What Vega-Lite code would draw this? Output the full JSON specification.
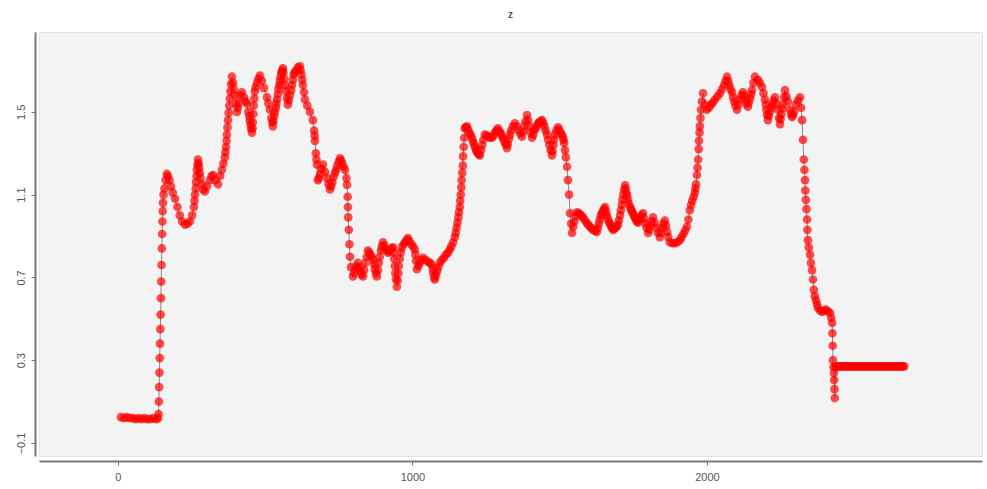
{
  "$schema": "https://vega.github.io/schema/vega-lite/v6.json",
  "width": 943,
  "height": 424,
  "autosize": {"type": "none"},
  "padding": {"left": 39, "top": 32, "right": 5, "bottom": 33},
  "background": "#ffffff",
  "title": {"text": "z", "fontSize": 10, "font": "Liberation Sans", "color": "#555555", "fontWeight": "bold", "offset": 12},
  "config": {
    "view": {"fill": "#f3f3f3", "stroke": "#e2e2e2", "strokeWidth": 1},
    "axis": {"labelFont": "Liberation Sans", "labelFontSize": 11, "labelColor": "#555555", "domainColor": "#777777", "domainWidth": 2, "tickColor": "#777777", "tickSize": 4, "grid": false, "title": null}
  },
  "data": {"values": [
    {"x":10,"z":0.025},{"x":20,"z":0.02},{"x":30,"z":0.025},{"x":40,"z":0.02},{"x":50,"z":0.02},{"x":60,"z":0.015},{"x":70,"z":0.02},{"x":80,"z":0.015},{"x":90,"z":0.02},{"x":100,"z":0.015},{"x":110,"z":0.015},{"x":120,"z":0.02},{"x":130,"z":0.015},{"x":136,"z":0.02},
    {"x":138,"z":0.04},{"x":139,"z":0.1},{"x":140,"z":0.17},{"x":141,"z":0.24},{"x":142,"z":0.31},{"x":143,"z":0.38},{"x":144,"z":0.45},{"x":145,"z":0.52},{"x":146,"z":0.6},{"x":147,"z":0.68},{"x":148,"z":0.76},{"x":149,"z":0.84},{"x":150,"z":0.91},{"x":151,"z":0.97},{"x":152,"z":1.02},{"x":153,"z":1.06},{"x":155,"z":1.1},{"x":158,"z":1.13},{"x":162,"z":1.17},{"x":166,"z":1.2},{"x":170,"z":1.19},{"x":175,"z":1.17},{"x":180,"z":1.14},{"x":186,"z":1.11},{"x":194,"z":1.08},{"x":202,"z":1.04},{"x":210,"z":1.0},{"x":218,"z":0.97},{"x":228,"z":0.955},{"x":236,"z":0.96},{"x":244,"z":0.97},{"x":252,"z":1.0},{"x":258,"z":1.04},{"x":262,"z":1.1},{"x":265,"z":1.16},{"x":268,"z":1.22},{"x":272,"z":1.27},{"x":276,"z":1.23},{"x":280,"z":1.18},{"x":285,"z":1.15},{"x":290,"z":1.125},{"x":295,"z":1.115},{"x":302,"z":1.14},{"x":312,"z":1.17},{"x":318,"z":1.19},{"x":323,"z":1.195},{"x":330,"z":1.17},{"x":340,"z":1.15},{"x":347,"z":1.19},{"x":353,"z":1.22},{"x":358,"z":1.25},{"x":363,"z":1.28},{"x":367,"z":1.33},{"x":370,"z":1.39},{"x":374,"z":1.46},{"x":378,"z":1.53},{"x":382,"z":1.6},{"x":387,"z":1.67},{"x":391,"z":1.64},{"x":397,"z":1.58},{"x":404,"z":1.5},{"x":410,"z":1.54},{"x":415,"z":1.58},{"x":421,"z":1.595},{"x":428,"z":1.57},{"x":434,"z":1.55},{"x":438,"z":1.54},{"x":443,"z":1.5},{"x":448,"z":1.46},{"x":452,"z":1.42},{"x":455,"z":1.4},{"x":458,"z":1.45},{"x":461,"z":1.53},{"x":465,"z":1.6},{"x":472,"z":1.64},{"x":482,"z":1.675},{"x":489,"z":1.65},{"x":496,"z":1.615},{"x":506,"z":1.57},{"x":511,"z":1.54},{"x":516,"z":1.51},{"x":521,"z":1.47},{"x":526,"z":1.43},{"x":531,"z":1.48},{"x":536,"z":1.52},{"x":540,"z":1.56},{"x":545,"z":1.61},{"x":550,"z":1.65},{"x":555,"z":1.69},{"x":560,"z":1.71},{"x":565,"z":1.66},{"x":570,"z":1.6},{"x":577,"z":1.535},{"x":584,"z":1.58},{"x":591,"z":1.63},{"x":597,"z":1.68},{"x":604,"z":1.7},{"x":611,"z":1.715},{"x":618,"z":1.72},{"x":623,"z":1.68},{"x":628,"z":1.63},{"x":635,"z":1.56},{"x":643,"z":1.53},{"x":652,"z":1.5},{"x":662,"z":1.46},{"x":666,"z":1.41},{"x":669,"z":1.36},{"x":672,"z":1.3},{"x":676,"z":1.245},{"x":679,"z":1.17},{"x":686,"z":1.2},{"x":696,"z":1.245},{"x":703,"z":1.21},{"x":710,"z":1.18},{"x":720,"z":1.125},{"x":728,"z":1.16},{"x":737,"z":1.205},{"x":745,"z":1.24},{"x":754,"z":1.275},{"x":762,"z":1.25},{"x":771,"z":1.22},{"x":776,"z":1.18},{"x":778,"z":1.147},{"x":780,"z":1.09},{"x":781,"z":1.04},{"x":782,"z":0.99},{"x":784,"z":0.93},{"x":786,"z":0.86},{"x":788,"z":0.8},{"x":791,"z":0.75},{"x":798,"z":0.705},{"x":806,"z":0.74},{"x":815,"z":0.77},{"x":823,"z":0.73},{"x":832,"z":0.705},{"x":840,"z":0.77},{"x":849,"z":0.83},{"x":857,"z":0.81},{"x":866,"z":0.785},{"x":872,"z":0.74},{"x":879,"z":0.705},{"x":886,"z":0.77},{"x":893,"z":0.83},{"x":900,"z":0.87},{"x":908,"z":0.84},{"x":917,"z":0.82},{"x":925,"z":0.835},{"x":934,"z":0.845},{"x":938,"z":0.79},{"x":942,"z":0.72},{"x":947,"z":0.655},{"x":952,"z":0.72},{"x":957,"z":0.79},{"x":964,"z":0.845},{"x":975,"z":0.87},{"x":985,"z":0.89},{"x":996,"z":0.86},{"x":1008,"z":0.835},{"x":1012,"z":0.78},{"x":1015,"z":0.74},{"x":1025,"z":0.77},{"x":1036,"z":0.795},{"x":1045,"z":0.785},{"x":1053,"z":0.775},{"x":1066,"z":0.76},{"x":1071,"z":0.72},{"x":1076,"z":0.69},{"x":1084,"z":0.73},{"x":1093,"z":0.77},{"x":1107,"z":0.795},{"x":1121,"z":0.82},{"x":1132,"z":0.85},{"x":1144,"z":0.895},{"x":1150,"z":0.94},{"x":1156,"z":0.99},{"x":1161,"z":1.04},{"x":1164,"z":1.1},{"x":1167,"z":1.17},{"x":1171,"z":1.24},{"x":1174,"z":1.33},{"x":1178,"z":1.42},{"x":1185,"z":1.43},{"x":1193,"z":1.4},{"x":1202,"z":1.375},{"x":1209,"z":1.345},{"x":1216,"z":1.315},{"x":1222,"z":1.3},{"x":1229,"z":1.29},{"x":1237,"z":1.34},{"x":1246,"z":1.39},{"x":1258,"z":1.38},{"x":1270,"z":1.375},{"x":1280,"z":1.4},{"x":1290,"z":1.42},{"x":1298,"z":1.4},{"x":1307,"z":1.375},{"x":1314,"z":1.35},{"x":1321,"z":1.325},{"x":1328,"z":1.37},{"x":1335,"z":1.41},{"x":1348,"z":1.445},{"x":1360,"z":1.41},{"x":1372,"z":1.38},{"x":1380,"z":1.43},{"x":1389,"z":1.485},{"x":1397,"z":1.43},{"x":1406,"z":1.375},{"x":1414,"z":1.41},{"x":1423,"z":1.435},{"x":1431,"z":1.45},{"x":1440,"z":1.46},{"x":1448,"z":1.43},{"x":1457,"z":1.39},{"x":1465,"z":1.34},{"x":1474,"z":1.29},{"x":1479,"z":1.34},{"x":1484,"z":1.39},{"x":1494,"z":1.425},{"x":1503,"z":1.4},{"x":1511,"z":1.38},{"x":1515,"z":1.35},{"x":1518,"z":1.315},{"x":1521,"z":1.28},{"x":1525,"z":1.235},{"x":1528,"z":1.17},{"x":1532,"z":1.1},{"x":1535,"z":1.01},{"x":1539,"z":0.96},{"x":1542,"z":0.915},{"x":1550,"z":0.97},{"x":1559,"z":1.015},{"x":1569,"z":1.005},{"x":1579,"z":0.99},{"x":1591,"z":0.965},{"x":1603,"z":0.945},{"x":1614,"z":0.93},{"x":1626,"z":0.92},{"x":1633,"z":0.96},{"x":1640,"z":1.0},{"x":1647,"z":1.02},{"x":1654,"z":1.04},{"x":1660,"z":1.0},{"x":1667,"z":0.97},{"x":1674,"z":0.95},{"x":1681,"z":0.93},{"x":1690,"z":0.94},{"x":1698,"z":0.955},{"x":1705,"z":1.0},{"x":1711,"z":1.05},{"x":1716,"z":1.1},{"x":1722,"z":1.145},{"x":1727,"z":1.11},{"x":1732,"z":1.075},{"x":1739,"z":1.04},{"x":1745,"z":1.02},{"x":1752,"z":1.0},{"x":1759,"z":0.98},{"x":1766,"z":0.965},{"x":1774,"z":0.99},{"x":1783,"z":1.01},{"x":1791,"z":0.96},{"x":1800,"z":0.915},{"x":1808,"z":0.95},{"x":1817,"z":0.99},{"x":1828,"z":0.94},{"x":1840,"z":0.895},{"x":1848,"z":0.94},{"x":1857,"z":0.975},{"x":1865,"z":0.92},{"x":1874,"z":0.87},{"x":1883,"z":0.865},{"x":1891,"z":0.866},{"x":1900,"z":0.87},{"x":1908,"z":0.88},{"x":1920,"z":0.91},{"x":1932,"z":0.945},{"x":1937,"z":0.98},{"x":1942,"z":1.025},{"x":1950,"z":1.07},{"x":1959,"z":1.11},{"x":1963,"z":1.15},{"x":1966,"z":1.195},{"x":1968,"z":1.23},{"x":1970,"z":1.27},{"x":1972,"z":1.32},{"x":1973,"z":1.36},{"x":1975,"z":1.4},{"x":1976,"z":1.43},{"x":1978,"z":1.47},{"x":1980,"z":1.51},{"x":1983,"z":1.55},{"x":1987,"z":1.59},{"x":1993,"z":1.535},{"x":2000,"z":1.51},{"x":2007,"z":1.52},{"x":2014,"z":1.535},{"x":2020,"z":1.545},{"x":2027,"z":1.56},{"x":2036,"z":1.575},{"x":2044,"z":1.59},{"x":2051,"z":1.61},{"x":2058,"z":1.63},{"x":2063,"z":1.65},{"x":2068,"z":1.67},{"x":2076,"z":1.63},{"x":2085,"z":1.595},{"x":2093,"z":1.55},{"x":2102,"z":1.51},{"x":2107,"z":1.535},{"x":2112,"z":1.56},{"x":2117,"z":1.58},{"x":2122,"z":1.595},{"x":2130,"z":1.56},{"x":2139,"z":1.525},{"x":2146,"z":1.565},{"x":2153,"z":1.605},{"x":2158,"z":1.64},{"x":2163,"z":1.67},{"x":2173,"z":1.655},{"x":2180,"z":1.64},{"x":2187,"z":1.62},{"x":2192,"z":1.59},{"x":2197,"z":1.56},{"x":2202,"z":1.51},{"x":2207,"z":1.46},{"x":2214,"z":1.5},{"x":2221,"z":1.535},{"x":2231,"z":1.57},{"x":2236,"z":1.54},{"x":2241,"z":1.51},{"x":2245,"z":1.47},{"x":2248,"z":1.44},{"x":2253,"z":1.49},{"x":2258,"z":1.535},{"x":2262,"z":1.57},{"x":2265,"z":1.605},{"x":2270,"z":1.575},{"x":2275,"z":1.55},{"x":2282,"z":1.51},{"x":2289,"z":1.475},{"x":2296,"z":1.5},{"x":2302,"z":1.535},{"x":2309,"z":1.555},{"x":2316,"z":1.57},{"x":2320,"z":1.52},{"x":2323,"z":1.46},{"x":2326,"z":1.365},{"x":2329,"z":1.27},{"x":2331,"z":1.22},{"x":2333,"z":1.17},{"x":2334,"z":1.12},{"x":2336,"z":1.075},{"x":2338,"z":1.03},{"x":2340,"z":0.98},{"x":2341,"z":0.93},{"x":2343,"z":0.88},{"x":2346,"z":0.845},{"x":2350,"z":0.81},{"x":2353,"z":0.77},{"x":2357,"z":0.735},{"x":2360,"z":0.69},{"x":2363,"z":0.64},{"x":2366,"z":0.61},{"x":2370,"z":0.59},{"x":2374,"z":0.57},{"x":2377,"z":0.552},{"x":2384,"z":0.54},{"x":2391,"z":0.533},{"x":2398,"z":0.54},{"x":2404,"z":0.545},{"x":2411,"z":0.535},{"x":2418,"z":0.528},{"x":2422,"z":0.505},{"x":2425,"z":0.48},{"x":2426,"z":0.43},{"x":2427,"z":0.37},{"x":2428,"z":0.3},{"x":2430,"z":0.267},{"x":2431,"z":0.238},{"x":2432,"z":0.204},{"x":2433,"z":0.16},{"x":2434,"z":0.117},{"x":2437,"z":0.265},
    {"x":2440,"z":0.27},{"x":2445,"z":0.27},{"x":2450,"z":0.27},{"x":2455,"z":0.27},{"x":2460,"z":0.27},{"x":2465,"z":0.27},{"x":2470,"z":0.27},{"x":2475,"z":0.27},{"x":2480,"z":0.27},{"x":2485,"z":0.27},{"x":2490,"z":0.27},{"x":2495,"z":0.27},{"x":2500,"z":0.27},{"x":2505,"z":0.27},{"x":2510,"z":0.27},{"x":2515,"z":0.27},{"x":2520,"z":0.27},{"x":2525,"z":0.27},{"x":2530,"z":0.27},{"x":2535,"z":0.27},{"x":2540,"z":0.27},{"x":2545,"z":0.27},{"x":2550,"z":0.27},{"x":2555,"z":0.27},{"x":2560,"z":0.27},{"x":2565,"z":0.27},{"x":2570,"z":0.27},{"x":2575,"z":0.27},{"x":2580,"z":0.27},{"x":2585,"z":0.27},{"x":2590,"z":0.27},{"x":2595,"z":0.27},{"x":2600,"z":0.27},{"x":2605,"z":0.27},{"x":2610,"z":0.27},{"x":2615,"z":0.27},{"x":2620,"z":0.27},{"x":2625,"z":0.27},{"x":2630,"z":0.27},{"x":2635,"z":0.27},{"x":2640,"z":0.27},{"x":2645,"z":0.27},{"x":2650,"z":0.27},{"x":2655,"z":0.27},{"x":2660,"z":0.27},{"x":2665,"z":0.27},{"x":2670,"z":0.27},
    {"x":260,"z":1.07},{"x":264,"z":1.13},{"x":267,"z":1.19},{"x":270,"z":1.245},{"x":274,"z":1.25},{"x":278,"z":1.205},
    {"x":365,"z":1.305},{"x":369,"z":1.36},{"x":372,"z":1.425},{"x":376,"z":1.495},{"x":380,"z":1.565},{"x":384,"z":1.635},{"x":394,"z":1.61},{"x":400,"z":1.54},{"x":407,"z":1.52},
    {"x":446,"z":1.48},{"x":450,"z":1.44},{"x":457,"z":1.42},{"x":460,"z":1.49},{"x":463,"z":1.565},{"x":468,"z":1.62},{"x":477,"z":1.66},
    {"x":524,"z":1.45},{"x":528,"z":1.455},{"x":533,"z":1.5},{"x":538,"z":1.54},{"x":543,"z":1.585},{"x":548,"z":1.63},{"x":552,"z":1.67},{"x":558,"z":1.7},{"x":562,"z":1.69},{"x":567,"z":1.63},{"x":574,"z":1.565},{"x":580,"z":1.555},{"x":588,"z":1.605},{"x":594,"z":1.655},{"x":600,"z":1.69},
    {"x":620,"z":1.7},{"x":626,"z":1.655},{"x":632,"z":1.595},{"x":668,"z":1.385},{"x":674,"z":1.27},{"x":682,"z":1.18},{"x":691,"z":1.225},
    {"x":715,"z":1.15},{"x":724,"z":1.14},{"x":732,"z":1.185},{"x":741,"z":1.22},{"x":750,"z":1.26},{"x":758,"z":1.265},{"x":766,"z":1.235},
    {"x":802,"z":0.72},{"x":810,"z":0.755},{"x":819,"z":0.75},{"x":827,"z":0.715},{"x":836,"z":0.735},{"x":845,"z":0.8},{"x":853,"z":0.82},{"x":862,"z":0.8},{"x":869,"z":0.765},{"x":876,"z":0.72},{"x":883,"z":0.735},{"x":889,"z":0.8},{"x":896,"z":0.85},{"x":904,"z":0.855},{"x":912,"z":0.83},{"x":921,"z":0.825},{"x":930,"z":0.84},{"x":936,"z":0.82},{"x":940,"z":0.755},{"x":944,"z":0.69},{"x":950,"z":0.685},{"x":954,"z":0.755},{"x":960,"z":0.82},{"x":970,"z":0.86},{"x":980,"z":0.88},{"x":990,"z":0.875},{"x":1002,"z":0.85},{"x":1010,"z":0.81},{"x":1020,"z":0.755},{"x":1030,"z":0.785},{"x":1060,"z":0.77},{"x":1069,"z":0.74},{"x":1074,"z":0.7},{"x":1080,"z":0.71},{"x":1088,"z":0.75},{"x":1100,"z":0.785},{"x":1114,"z":0.81},{"x":1127,"z":0.835},{"x":1138,"z":0.87},{"x":1147,"z":0.915},{"x":1153,"z":0.965},{"x":1158,"z":1.015},{"x":1162,"z":1.07},{"x":1166,"z":1.135},{"x":1169,"z":1.205},{"x":1172,"z":1.285},{"x":1176,"z":1.375},{"x":1181,"z":1.425},
    {"x":1189,"z":1.415},{"x":1197,"z":1.39},{"x":1205,"z":1.36},{"x":1212,"z":1.33},{"x":1219,"z":1.31},{"x":1225,"z":1.295},{"x":1233,"z":1.315},{"x":1241,"z":1.365},{"x":1252,"z":1.385},{"x":1264,"z":1.375},{"x":1275,"z":1.385},{"x":1285,"z":1.41},{"x":1294,"z":1.41},{"x":1302,"z":1.39},{"x":1310,"z":1.365},{"x":1318,"z":1.34},{"x":1324,"z":1.345},{"x":1331,"z":1.39},{"x":1341,"z":1.43},{"x":1354,"z":1.43},{"x":1366,"z":1.395},{"x":1376,"z":1.405},{"x":1384,"z":1.455},{"x":1393,"z":1.46},{"x":1401,"z":1.4},{"x":1410,"z":1.39},{"x":1418,"z":1.42},{"x":1427,"z":1.445},{"x":1436,"z":1.455},{"x":1444,"z":1.445},{"x":1452,"z":1.41},{"x":1461,"z":1.365},{"x":1469,"z":1.315},{"x":1476,"z":1.31},{"x":1481,"z":1.365},{"x":1489,"z":1.41},{"x":1498,"z":1.415},{"x":1507,"z":1.39},{"x":1513,"z":1.365},
    {"x":1546,"z":0.945},{"x":1554,"z":0.995},{"x":1564,"z":1.01},{"x":1574,"z":0.998},{"x":1585,"z":0.978},{"x":1597,"z":0.955},{"x":1608,"z":0.937},{"x":1620,"z":0.925},{"x":1630,"z":0.94},{"x":1636,"z":0.98},{"x":1644,"z":1.01},{"x":1650,"z":1.03},{"x":1657,"z":1.02},{"x":1663,"z":0.985},{"x":1670,"z":0.96},{"x":1677,"z":0.94},{"x":1685,"z":0.935},{"x":1694,"z":0.947},{"x":1701,"z":0.975},{"x":1708,"z":1.025},{"x":1713,"z":1.075},{"x":1719,"z":1.125},{"x":1724,"z":1.13},{"x":1729,"z":1.095},{"x":1735,"z":1.055},{"x":1742,"z":1.03},{"x":1748,"z":1.01},{"x":1755,"z":0.99},{"x":1762,"z":0.97},{"x":1770,"z":0.977},{"x":1778,"z":1.0},{"x":1787,"z":0.985},{"x":1795,"z":0.94},{"x":1804,"z":0.93},{"x":1812,"z":0.97},{"x":1822,"z":0.965},{"x":1834,"z":0.915},{"x":1844,"z":0.915},{"x":1852,"z":0.96},{"x":1861,"z":0.95},{"x":1869,"z":0.895},{"x":1914,"z":0.895},{"x":1926,"z":0.927},{"x":1946,"z":1.05},{"x":1955,"z":1.09},{"x":1961,"z":1.13},
    {"x":2072,"z":1.65},{"x":2080,"z":1.61},{"x":2089,"z":1.57},{"x":2097,"z":1.53},{"x":2126,"z":1.58},{"x":2134,"z":1.54},{"x":2142,"z":1.545},{"x":2150,"z":1.585},{"x":2200,"z":1.535},{"x":2204,"z":1.485},{"x":2210,"z":1.48},{"x":2218,"z":1.52},{"x":2226,"z":1.555},{"x":2250,"z":1.465},{"x":2256,"z":1.515},{"x":2286,"z":1.49},{"x":2292,"z":1.485}
  ]},
  "encoding": {
    "x": {"field": "x", "type": "quantitative", "scale": {"domain": [-268, 2934], "nice": false, "zero": false},
          "axis": {"values": [0, 1000, 2000], "format": "d", "offset": 5, "labelPadding": 6}},
    "y": {"field": "z", "type": "quantitative", "scale": {"domain": [-0.163, 1.886], "nice": false, "zero": false},
          "axis": {"values": [-0.1, 0.3, 0.7, 1.1, 1.5], "format": ".1f", "offset": 4, "labelAngle": 270, "labelAlign": "center", "labelBaseline": "bottom", "labelPadding": 5}}
  },
  "layer": [
    {"mark": {"type": "line", "color": "#8a8a8a", "strokeWidth": 1}},
    {"mark": {"type": "point", "filled": true, "color": "#ff0000", "opacity": 0.7, "size": 75}}
  ]
}
